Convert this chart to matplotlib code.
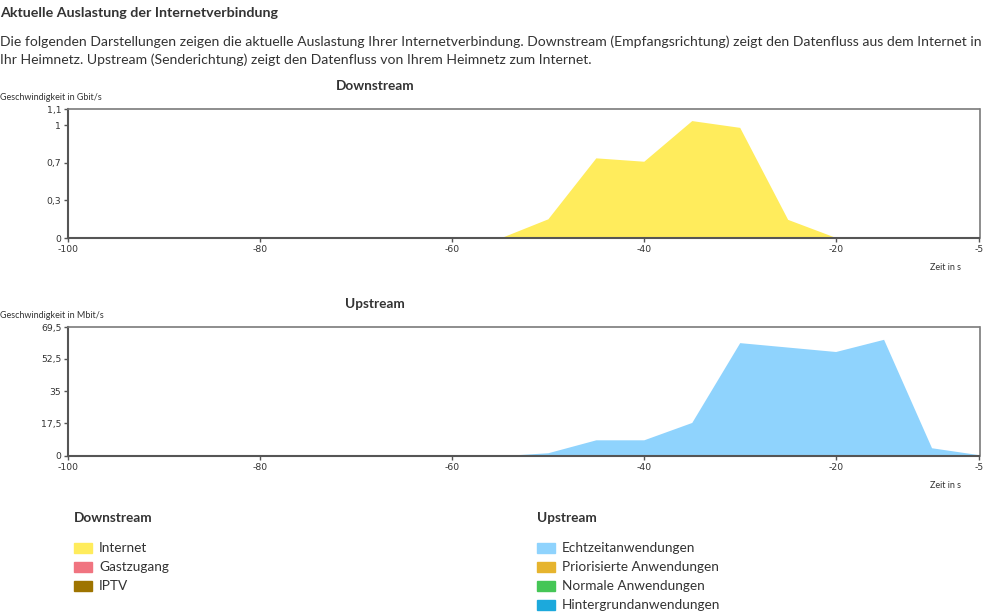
import matplotlib.pyplot as plt
from matplotlib.patches import Rectangle

# time axis (seconds) and the two series
seconds = [-100, -95, -90, -85, -80, -75, -70, -65, -60, -55, -50, -45, -40,
           -35, -30, -25, -20, -15, -10, -5]
down_internet = [0, 0, 0, 0, 0, 0, 0, 0, 0, 0, 0.17, 0.71, 0.68,
                 1.04, 0.98, 0.165, 0.005, 0.003, 0.003, 0.003]
up_echtzeit = [0, 0, 0, 0, 0, 0, 0, 0, 0, 0, 1.6, 8.6, 8.6,
               18.0, 61.2, 58.8, 56.4, 63.0, 4.3, 0.5]

x_ticks = [-100, -80, -60, -40, -20, -5]
down_ticks = [0, 1 / 3, 2 / 3, 1, 1.14]
down_tick_labels = ["0", "0,3", "0,7", "1", "1,1"]
up_ticks = [0, 17.5, 35, 52.5, 69.5]
up_tick_labels = ["0", "17,5", "35", "52,5", "69,5"]

down_legend = ["Internet", "Gastzugang", "IPTV"]
down_colors = ["#FFEC5C", "#F07480", "#9E7400"]
up_legend = ["Echtzeitanwendungen", "Priorisierte Anwendungen",
             "Normale Anwendungen", "Hintergrundanwendungen"]
up_colors = ["#8FD3FD", "#E6B42E", "#45C656", "#1CA9DC"]

W, H = 999, 613
plt.rcParams['font.family'] = ['Lato', 'DejaVu Sans']
fig = plt.figure(figsize=(W / 100, H / 100), dpi=100)
TXT = "#333333"


def px(x, y):
    return x / W, 1 - y / H


def put(x, y, s, **kw):
    fx, fy = px(x, y)
    fig.text(fx, fy, s, color=kw.pop("color", TXT), va="center", **kw)


put(0, 13, "Aktuelle Auslastung der Internetverbindung", fontsize=10.3, weight="bold")
put(0, 42, "Die folgenden Darstellungen zeigen die aktuelle Auslastung Ihrer Internetverbindung. "
           "Downstream (Empfangsrichtung) zeigt den Datenfluss aus dem Internet in", fontsize=10.05)
put(0, 60, "Ihr Heimnetz. Upstream (Senderichtung) zeigt den Datenfluss von Ihrem Heimnetz zum Internet.",
    fontsize=10.05)


def make_axes(top, bottom, values, color, ticks, labels, title, unit):
    left, right = 68.3, 979.5
    ax = fig.add_axes([left / W, 1 - bottom / H, (right - left) / W, (bottom - top) / H])
    ax.fill_between(seconds, values, color=color, lw=0)
    ax.set_xlim(-100, -5)
    ax.set_ylim(0, ticks[-1])
    ax.set_xticks(x_ticks)
    ax.set_xticklabels([str(t) for t in x_ticks], family="DejaVu Sans")
    ax.set_yticks(ticks)
    ax.set_yticklabels(labels, family="DejaVu Sans")
    ax.tick_params(labelsize=6.7, colors="#555555", labelcolor=TXT, length=3, width=1, pad=2)
    for side in ["left", "bottom"]:
        ax.spines[side].set_color("#555555")
        ax.spines[side].set_linewidth(1.5)
    for side in ["top", "right"]:
        ax.spines[side].set_color("#7a7a7a")
        ax.spines[side].set_linewidth(1.2)
    put(375, top - 23, title, fontsize=9.8, weight="bold", ha="center")
    put(0, top - 12, unit, fontsize=6.5)
    put(945, bottom + 30, "Zeit in s", fontsize=6.5, ha="center")
    return ax


make_axes(109.3, 238, down_internet, down_colors[0], down_ticks, down_tick_labels,
          "Downstream", "Geschwindigkeit in Gbit/s")
make_axes(327.3, 455.7, up_echtzeit, up_colors[0], up_ticks, up_tick_labels,
          "Upstream", "Geschwindigkeit in Mbit/s")


def legend(x, header, names, colors):
    put(x, 518, header, fontsize=9.8, weight="bold")
    for i, (name, c) in enumerate(zip(names, colors)):
        y = 548 + i * 19
        fx, fy = px(x, y + 5)
        fig.patches.append(Rectangle((fx, fy), 18 / W, 10 / H, color=c,
                                     transform=fig.transFigure, figure=fig))
        put(x + 25, y, name, fontsize=9.8)


legend(74, "Downstream", down_legend, down_colors)
legend(537, "Upstream", up_legend, up_colors)

fig.savefig("out.png", dpi=100)
